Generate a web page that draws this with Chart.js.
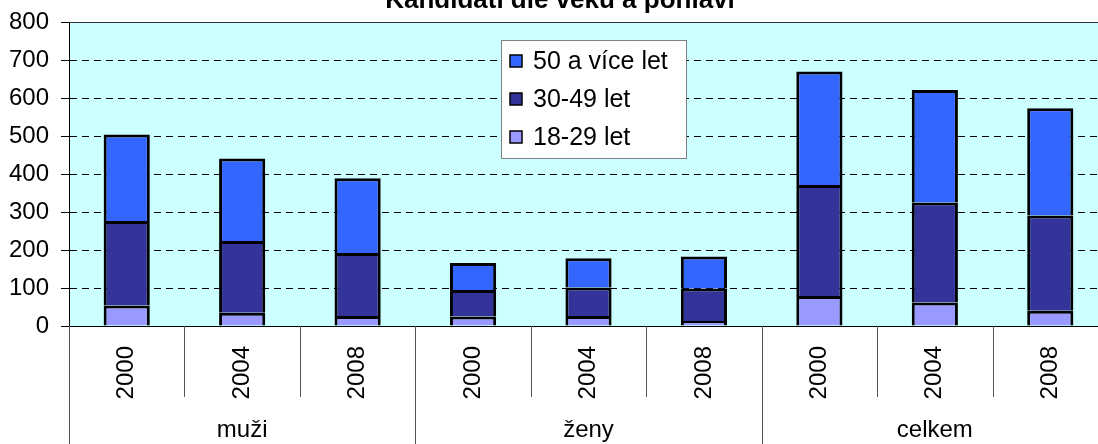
<!DOCTYPE html>
<html>
<head>
<meta charset="utf-8">
<script src="https://cdn.jsdelivr.net/npm/chart.js@4/dist/chart.umd.min.js"></script>
<style>
  html, body { margin: 0; padding: 0; background: #fff; overflow: hidden; }
  #wrap { width: 1108px; height: 444px; }
</style>
</head>
<body>
<div id="wrap"><canvas id="graf" width="1108" height="444"></canvas></div>
<script>
// data
const roky = ['2000', '2004', '2008', '2000', '2004', '2008', '2000', '2004', '2008'];
const skupiny = ['muži', 'ženy', 'celkem'];
const vek18_29 = [54, 35, 26, 25, 26, 13, 79, 62, 40];
const vek30_49 = [222, 189, 166, 70, 75, 86, 292, 263, 251];
const vek50 = [228, 217, 197, 71, 77, 84, 299, 296, 282];
const osaY = [0, 100, 200, 300, 400, 500, 600, 700, 800];

const titulek = 'Kandidáti dle věku a pohlaví';
const pismo = 'Arial, "Liberation Sans", sans-serif';

// pozadi, titulek, oddelovace skupin a legenda
const doplnky = {
    id: 'doplnky',
    beforeDraw(chart) {
        const c = chart.ctx, a = chart.chartArea;
        c.save();
        c.fillStyle = '#CCFFFF';
        c.fillRect(a.left, a.top, a.right - a.left, a.bottom - a.top);
        c.fillStyle = '#000';
        c.font = 'bold 26px ' + pismo;
        c.textAlign = 'center';
        c.textBaseline = 'alphabetic';
        c.fillText(titulek, 560, 8);
        c.restore();
    },
    afterDraw(chart) {
        const c = chart.ctx, a = chart.chartArea, x = chart.scales.x;
        const n = roky.length;
        const hrana = i => {
            if (i <= 0) return a.left;
            if (i >= n) return a.right;
            return (x.getPixelForValue(i - 1) + x.getPixelForValue(i)) / 2;
        };
        c.save();
        // horni okraj
        c.strokeStyle = '#333';
        c.lineWidth = 1;
        c.beginPath();
        c.moveTo(a.left, Math.round(a.top) + 0.5);
        c.lineTo(a.right, Math.round(a.top) + 0.5);
        c.stroke();
        // svisle cary pod osou
        c.strokeStyle = '#555';
        for (let i = 0; i <= n; i++) {
            const px = Math.round(hrana(i)) + 0.5;
            const konec = (i % 3 === 0) ? chart.height : a.bottom + 71;
            c.beginPath();
            c.moveTo(px, a.bottom);
            c.lineTo(px, konec);
            c.stroke();
        }
        // popisky skupin
        c.fillStyle = '#000';
        c.font = '24px ' + pismo;
        c.textAlign = 'center';
        c.textBaseline = 'alphabetic';
        skupiny.forEach((s, g) => {
            c.fillText(s, (hrana(g * 3) + hrana(g * 3 + 3)) / 2, a.bottom + 111);
        });
        // legenda
        const lx = 501, ly = 40;
        c.fillStyle = '#fff';
        c.fillRect(lx, ly, 185, 118);
        c.strokeStyle = '#808080';
        c.strokeRect(lx + 0.5, ly + 0.5, 185, 118);
        c.font = '25px ' + pismo;
        const sady = chart.data.datasets.slice().reverse();
        sady.forEach((d, i) => {
            const y = ly + 21 + i * 38;
            c.fillStyle = d.backgroundColor;
            c.fillRect(lx + 9, y - 6, 12, 12);
            c.strokeStyle = '#000';
            c.lineWidth = 1.5;
            c.strokeRect(lx + 9, y - 6, 12, 12);
            c.fillStyle = '#000';
            c.textAlign = 'left';
            c.textBaseline = 'middle';
            c.fillText(d.label, lx + 32, y + 1);
        });
        c.restore();
    }
};

const ctx = document.getElementById('graf').getContext('2d');
new Chart(ctx, {
    type: 'bar',
    data: {
        labels: roky,
        datasets: [
            { label: '18-29 let', data: vek18_29, backgroundColor: '#9999FF' },
            { label: '30-49 let', data: vek30_49, backgroundColor: '#333399' },
            { label: '50 a více let', data: vek50, backgroundColor: '#3366FF' }
        ]
    },
    options: {
        responsive: false,
        animation: false,
        layout: { padding: { top: 22, left: 0, right: 0, bottom: 0 } },
        datasets: {
            bar: {
                borderColor: '#000',
                borderWidth: 3,
                barPercentage: 0.4,
                categoryPercentage: 1
            }
        },
        plugins: {
            legend: { display: false },
            title: { display: false },
            tooltip: { enabled: false }
        },
        scales: {
            x: {
                stacked: true,
                afterFit: s => { s.height = 118; s.paddingLeft = 0; s.paddingRight = 0; },
                grid: { display: false, drawTicks: false },
                border: { display: true, color: '#000', width: 1 },
                ticks: {
                    autoSkip: false,
                    minRotation: 90,
                    maxRotation: 90,
                    padding: 20,
                    color: '#000',
                    font: { family: pismo, size: 24 }
                }
            },
            y: {
                stacked: true,
                min: 0,
                max: 800,
                afterFit: s => { s.width = 69; s.paddingTop = 0; s.paddingBottom = 0; },
                afterBuildTicks: s => { s.ticks = osaY.map(v => ({ value: v })); },
                grid: {
                    color: '#000',
                    lineWidth: 1,
                    tickLength: 8,
                    tickColor: '#000'
                },
                border: {
                    display: true,
                    color: '#000',
                    width: 1,
                    dash: c => (c.tick && (c.tick.value === 0 || c.tick.value === 800)) ? [] : [7, 5]
                },
                ticks: {
                    padding: 12,
                    color: '#000',
                    font: { family: pismo, size: 24 }
                }
            }
        }
    },
    plugins: [doplnky]
});
</script>
</body>
</html>
